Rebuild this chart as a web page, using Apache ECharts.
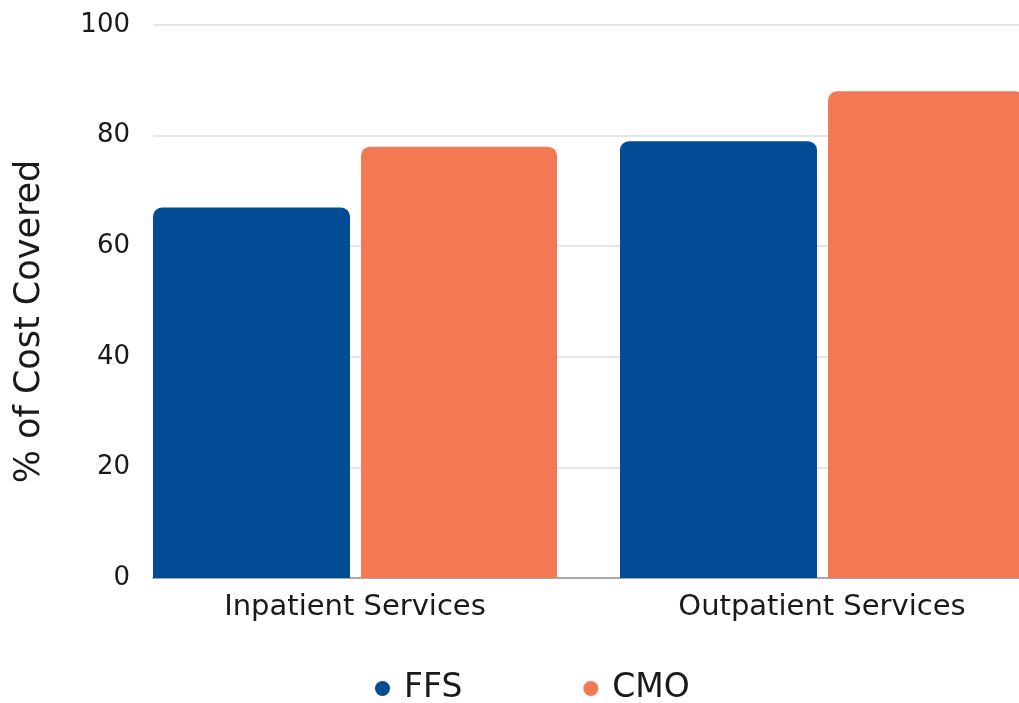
<!DOCTYPE html>
<html><head><meta charset="utf-8">
<script src="https://cdn.jsdelivr.net/npm/echarts@6/dist/echarts.min.js"></script>
<style>html,body{margin:0;padding:0;background:#fff}#c{width:1019px;height:703px}</style>
</head><body><div id="c"></div>
<script>
const categories = ['Inpatient Services', 'Outpatient Services'];
const ffsValues = [67, 79];
const cmoValues = [78, 88];
const yTicks = [0, 20, 40, 60, 80, 100];
const FONT = '"DejaVu Sans", sans-serif';

const chart = echarts.init(document.getElementById('c'));
chart.setOption({
  animation: false,
  backgroundColor: '#ffffff',
  grid: { left: 153, top: 25, width: 934, height: 553, containLabel: false, outerBoundsMode: 'none' },
  legend: {
    data: ['FFS', 'CMO'],
    left: 370, top: 667,
    icon: 'circle', itemWidth: 15, itemHeight: 15, itemGap: 121,
    textStyle: { fontFamily: FONT, fontSize: 33, color: '#1a1a1a', padding: [0, 0, 0, 9] }
  },
  xAxis: {
    type: 'category', data: categories,
    axisLine: { lineStyle: { color: '#a8a8a8', width: 2 } },
    axisTick: { show: false },
    axisLabel: { fontFamily: FONT, fontSize: 29, color: '#1a1a1a', margin: 15, padding: [0, 63, 0, 0] }
  },
  yAxis: {
    type: 'value', min: yTicks[0], max: yTicks[yTicks.length - 1], interval: 20,
    name: '% of Cost Covered', nameLocation: 'middle', nameGap: 106, nameRotate: 90,
    nameTextStyle: { fontFamily: FONT, fontSize: 35, color: '#1a1a1a', padding: [0, 0, 0, -40] },
    axisLine: { show: false }, axisTick: { show: false },
    axisLabel: { fontFamily: FONT, fontSize: 26, color: '#1a1a1a', margin: 23 },
    splitLine: { lineStyle: { color: '#dcdcdc', width: 1.5 } }
  },
  series: [
    { name: 'FFS', type: 'bar', data: ffsValues, barWidth: 197, barGap: '5.6%',
      itemStyle: { color: '#024b95', borderRadius: [9, 9, 0, 0] } },
    { name: 'CMO', type: 'bar', data: cmoValues, barWidth: 196, barGap: '5.6%',
      itemStyle: { color: '#f37955', borderRadius: [9, 9, 0, 0] } },
    { name: 'spacer', type: 'bar', data: [null, null], barWidth: 52, barGap: '5.6%', silent: true }
  ]
});
</script></body></html>
